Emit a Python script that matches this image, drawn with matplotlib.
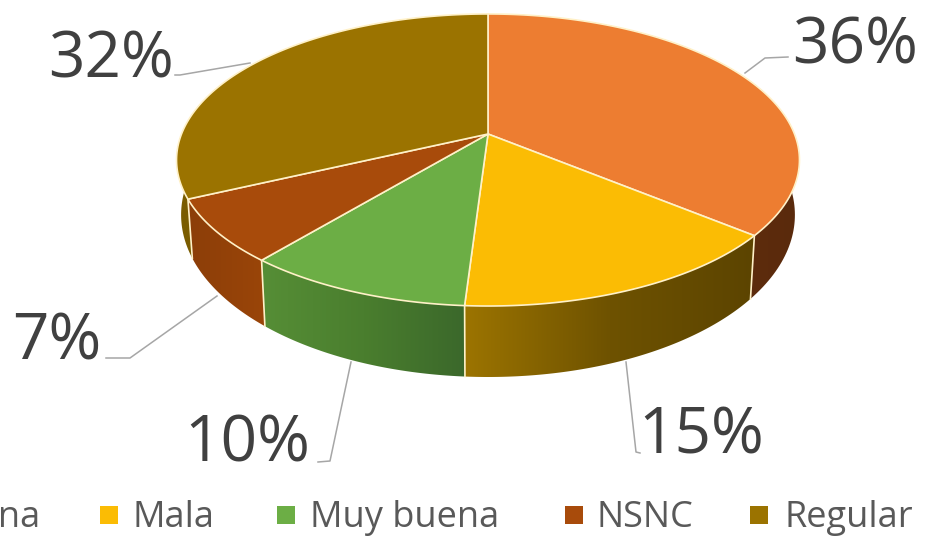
import numpy as np
import matplotlib
matplotlib.use("Agg")
import matplotlib.pyplot as plt
from matplotlib.colors import LinearSegmentedColormap
from matplotlib.patches import Polygon, Rectangle

# datos del grafico
categorias = ["Buena", "Mala", "Muy buena", "NSNC", "Regular"]
porcentajes = [36, 15, 10, 7, 32]

colores = ["#ED7D31", "#FBBC04", "#6CAE45", "#A84B0B", "#9B7300"]
# degradado de la pared lateral de cada porcion (izquierda a derecha)
paredes = [
    ["#6E3410", "#5A2A0C"],
    ["#9C7400", "#6E5200", "#5C4400"],
    ["#568E36", "#4A7E2E", "#3B682B"],
    ["#8C3E08", "#9A4509"],
    ["#7A5C00", "#7A5C00"],
]

# posicion de etiquetas (x, y base) y lineas guia
etiquetas_xy = [(792, 64), (638, 453), (184, 462), (12, 360), (48, 78)]
guias = [
    [(745, 73), (765, 58), (788, 57)],
    [(626, 362), (636, 452), (640, 453)],
    [(351, 362), (330, 461), (318, 462)],
    [(217, 296), (130, 358), (106, 358)],
    [(250, 63), (180, 75), (175, 75)],
]
leyenda_marca_x = [-40, 100, 277, 565, 750]
leyenda_texto_x = [41, 133, 310, 597, 785]

CX, CY = 488, 134
K = 0.178


def proy_sup(t):
    # vista en perspectiva del circulo superior
    u, v = np.sin(t), -np.cos(t)
    w = 1 - K * v
    return CX + 306.5 * u / w, CY + 141.4 * v / w


def proy_inf(t):
    # borde inferior del cilindro
    u, v = np.sin(t), -np.cos(t)
    w = 1 - K * v
    return CX + 302 * u / w, 186 + 157 * v / w


fig = plt.figure(figsize=(9.25, 5.36), dpi=100)
ax = fig.add_axes([0, 0, 1, 1])
plt.rcParams["font.family"] = ["Open Sans", "DejaVu Sans"]

limites = np.cumsum([0] + porcentajes) / 100 * 2 * np.pi
CREMA = "#FFF1C8"

# paredes laterales con degradado
for i in range(len(porcentajes)):
    t = np.linspace(limites[i], limites[i + 1], 120)
    xs, ys = proy_sup(t)
    xi, yi = proy_inf(t)
    pts = np.column_stack([np.r_[xs, xi[::-1]], np.r_[ys, yi[::-1]]])
    pared = Polygon(pts, closed=True, facecolor="none", edgecolor="none")
    ax.add_patch(pared)
    cmap = LinearSegmentedColormap.from_list("pared", paredes[i])
    grad = np.linspace(0, 1, 256).reshape(1, -1)
    im = ax.imshow(grad, cmap=cmap, aspect="auto",
                   extent=[pts[:, 0].min(), pts[:, 0].max(), pts[:, 1].max(), pts[:, 1].min()],
                   zorder=1)
    im.set_clip_path(pared)

# aristas verticales entre paredes
for lim in limites[1:-1]:
    xs, ys = proy_sup(lim)
    xi, yi = proy_inf(lim)
    ax.plot([xs, xi], [ys, yi], color=CREMA, lw=1.2, zorder=2)

# cara superior
for i in range(len(porcentajes)):
    t = np.linspace(limites[i], limites[i + 1], 120)
    xs, ys = proy_sup(t)
    pts = np.column_stack([np.r_[CX, xs], np.r_[CY, ys]])
    ax.add_patch(Polygon(pts, closed=True, facecolor=colores[i], edgecolor=CREMA,
                         lw=1.2, joinstyle="round", zorder=3))

# lineas guia y porcentajes
for i, p in enumerate(porcentajes):
    g = np.array(guias[i])
    ax.plot(g[:, 0], g[:, 1], color="#A6A6A6", lw=1.1, zorder=2)
    ax.text(etiquetas_xy[i][0], etiquetas_xy[i][1], f"{p}%", fontsize=46,
            color="#404040", ha="left", va="baseline", zorder=4)

# leyenda inferior (la primera entrada queda cortada por el borde)
for i, nombre in enumerate(categorias):
    ax.add_patch(Rectangle((leyenda_marca_x[i], 506), 18, 18, facecolor=colores[i],
                           edgecolor="none", zorder=4))
    ha = "right" if i == 0 else "left"
    ax.text(leyenda_texto_x[i], 527, nombre, fontsize=26, color="#595959",
            ha=ha, va="baseline", zorder=4)

ax.set_xlim(0, 925)
ax.set_ylim(536, 0)
ax.axis("off")

fig.savefig("out.png", dpi=100)
